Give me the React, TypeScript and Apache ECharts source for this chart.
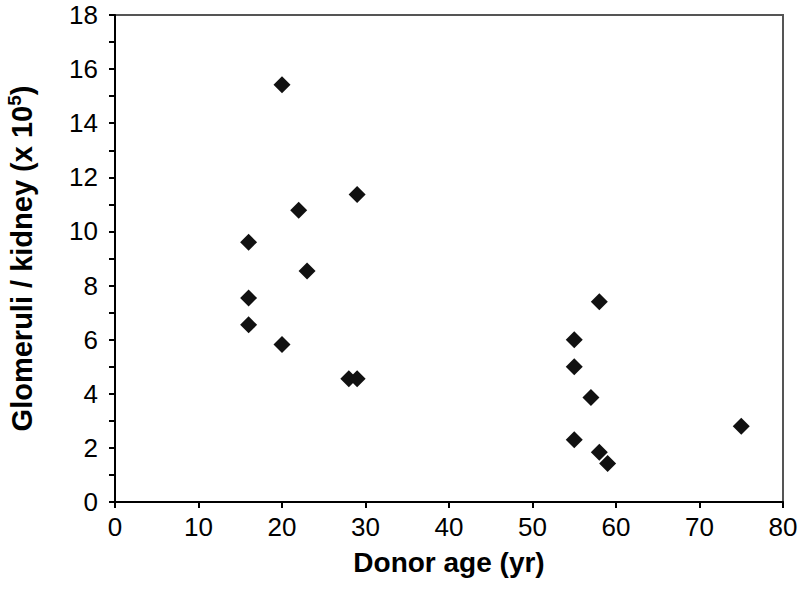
import React, { useEffect, useRef } from "react";
import * as echarts from "echarts";

const ages = [20, 29, 22, 16, 23, 16, 16, 20, 28, 29, 55, 58, 55, 57, 55, 58, 59, 75];
const glomeruli = [15.42, 11.37, 10.78, 9.6, 8.54, 7.54, 6.55, 5.82, 4.56, 4.56, 6.0, 7.4, 5.0, 3.86, 2.3, 1.84, 1.42, 2.8];
const xTicks = [0, 80, 10];
const yTicks = [0, 18, 2];

export default function App() {
  const ref = useRef<HTMLDivElement>(null);
  useEffect(() => {
    if (!ref.current) return;
    const chart = echarts.init(ref.current, undefined, { renderer: "svg" });
    const font = "Liberation Sans, Arial, sans-serif";
    chart.setOption({
      animation: false,
      backgroundColor: "#ffffff",
      grid: {
        left: 115, right: 17, top: 15, bottom: 112,
        containLabel: false, outerBoundsMode: "none",
        show: true, borderColor: "#555555", borderWidth: 2, backgroundColor: "transparent",
      },
      xAxis: {
        type: "value",
        min: xTicks[0],
        max: xTicks[1],
        interval: xTicks[2],
        name: "Donor age (yr)",
        nameLocation: "middle",
        nameGap: 46,
        nameTextStyle: { fontFamily: font, fontSize: 28, fontWeight: "bold", color: "#000" },
        axisLine: { show: true, lineStyle: { color: "#000", width: 2 } },
        axisTick: { show: true, inside: false, length: 6, lineStyle: { color: "#000", width: 2 } },
        axisLabel: { fontFamily: font, fontSize: 26, color: "#000", margin: 12 },
        splitLine: { show: false },
      },
      yAxis: {
        type: "value",
        min: yTicks[0],
        max: yTicks[1],
        interval: yTicks[2],
        name: "{a|Glomeruli / kidney (x 10}{sup|5}{a|)}",
        nameLocation: "middle",
        nameGap: 77,
        nameRotate: 90,
        nameTextStyle: {
          color: "#000",
          rich: {
            a: { fontFamily: font, fontSize: 29, fontWeight: "bold", color: "#000" },
            sup: { fontFamily: font, fontSize: 19, fontWeight: "bold", color: "#000", padding: [0, 0, 14, 0] },
          },
        },
        axisLine: { show: true, lineStyle: { color: "#000", width: 2 } },
        axisTick: { show: true, inside: false, length: 6, lineStyle: { color: "#000", width: 2 } },
        minorTick: { show: true, splitNumber: 2, length: 6, lineStyle: { color: "#000", width: 2 } },
        axisLabel: { fontFamily: font, fontSize: 26, color: "#000", margin: 17 },
        splitLine: { show: false },
      },
      series: [
        {
          type: "scatter",
          data: ages.map((a, i) => [a, glomeruli[i]]),
          symbol: "diamond",
          symbolSize: 17,
          itemStyle: { color: "#111111", opacity: 1 },
        },
      ],
    });
    return () => chart.dispose();
  }, []);
  return <div ref={ref} style={{ width: 800, height: 614, position: "absolute", left: 0, top: 0 }} />;
}
